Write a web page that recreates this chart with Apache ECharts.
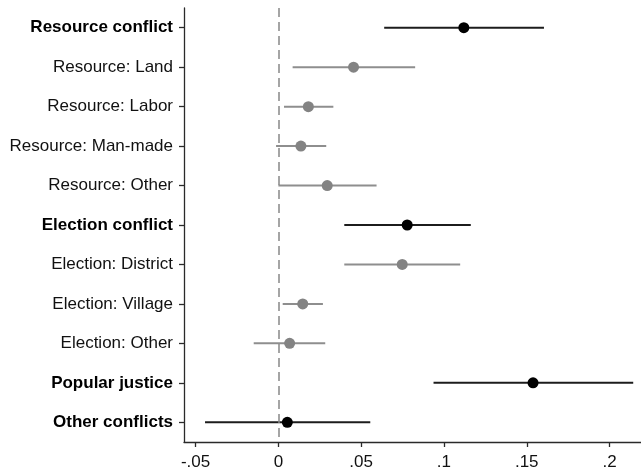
<!DOCTYPE html>
<html>
<head>
<meta charset="utf-8">
<script src="https://cdn.jsdelivr.net/npm/echarts@6/dist/echarts.min.js"></script>
<style>html,body{margin:0;padding:0;background:#fff}#c{width:641px;height:471px}</style>
</head>
<body>
<div id="c"></div>
<script>
const categories = ["Resource conflict","Resource: Land","Resource: Labor","Resource: Man-made","Resource: Other","Election conflict","Election: District","Election: Village","Election: Other","Popular justice","Other conflicts"];
const isMain = [true,false,false,false,false,true,false,false,false,true,true];
const estimates = [0.1120,0.0454,0.0181,0.0136,0.0295,0.0778,0.0748,0.0147,0.0068,0.1538,0.0054];
const lower = [0.0639,0.0086,0.0034,-0.0014,0.0000,0.0398,0.0398,0.0026,-0.0149,0.0937,-0.0443];
const upper = [0.1604,0.0826,0.0332,0.0289,0.0593,0.1162,0.1098,0.0269,0.0283,0.2143,0.0555];
const xTicks = [-0.05,0,0.05,0.1,0.15,0.2];

const BLACK = '#000000', BLACK_LINE = '#1c1c1c', GRAY = '#838383', GRAY_LINE = '#8e8e8e';
const ciData = categories.map((c,i)=>[lower[i],upper[i],c,isMain[i]?1:0]);
const mainPts = [], subPts = [];
categories.forEach((c,i)=>{ (isMain[i]?mainPts:subPts).push([estimates[i],c]); });

function fmt(v){
  if (Math.abs(v) < 1e-9) return '0';
  let s = String(Math.round(v*100)/100);
  return s.replace(/^(-?)0\./,'$1.');
}

const chart = echarts.init(document.getElementById('c'), null, {renderer:'canvas'});
chart.setOption({
  animation:false,
  grid:{left:184,right:0,top:8,bottom:29,containLabel:false},
  xAxis:{
    type:'value', min:-0.057, max:0.219,
    splitLine:{show:false},
    axisLine:{show:true,onZero:false,lineStyle:{color:'#2a2a2a',width:1.3}},
    axisTick:{show:true,length:5,lineStyle:{color:'#2a2a2a',width:1.3},customValues:xTicks},
    axisLabel:{customValues:xTicks,formatter:fmt,color:'#111',fontFamily:'Liberation Sans, Arial',fontSize:17,margin:12}
  },
  yAxis:{
    type:'category', data:categories, inverse:true,
    axisLine:{show:true,onZero:false,lineStyle:{color:'#2a2a2a',width:1.3}},
    axisTick:{show:true,alignWithLabel:true,length:5,lineStyle:{color:'#2a2a2a',width:1.3}},
    splitLine:{show:false},
    axisLabel:{
      margin:11,color:'#111',fontFamily:'Liberation Sans, Arial',fontSize:17,
      formatter:function(v,i){ return isMain[categories.indexOf(v)] ? '{b|'+v+'}' : v; },
      rich:{b:{fontWeight:'bold',fontSize:17,fontFamily:'Liberation Sans, Arial',color:'#000'}}
    }
  },
  series:[
    {
      type:'custom',
      data:ciData,
      encode:{x:[0,1],y:2},
      renderItem:function(params,api){
        const p1 = api.coord([api.value(0), api.value(2)]);
        const p2 = api.coord([api.value(1), api.value(2)]);
        const main = api.value(3) === 1;
        return {type:'line',shape:{x1:p1[0],y1:p1[1],x2:p2[0],y2:p2[1]},
          style:{stroke: main?BLACK_LINE:GRAY_LINE, lineWidth:2}};
      },
      z:2
    },
    {
      type:'scatter', data:subPts, symbol:'circle', symbolSize:11,
      itemStyle:{color:GRAY,opacity:1}, z:3,
      markLine:{
        silent:true, symbol:['none','none'], label:{show:false},
        lineStyle:{color:'#888888',type:[9,5],width:1.5},
        data:[{xAxis:0}]
      }
    },
    {
      type:'scatter', data:mainPts, symbol:'circle', symbolSize:11,
      itemStyle:{color:BLACK,opacity:1}, z:4
    }
  ]
});
</script>
</body>
</html>
